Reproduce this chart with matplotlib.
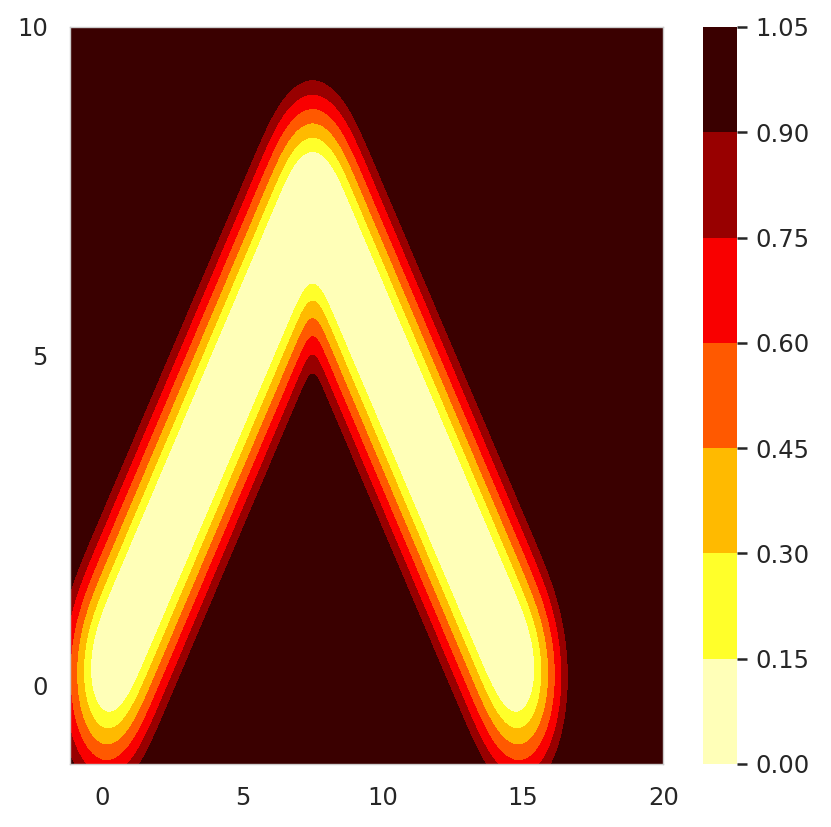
import numpy as np
import matplotlib
matplotlib.use("Agg")
import matplotlib.pyplot as plt

# ---- data ----
path_x = [0.0, 7.5, 15.0]          # vertices of the inverted-V path
path_y = [0.0, 7.5, 0.0]
x_range = [-1.15, 20.0]
y_range = [-1.2, 10.0]
levels = [0.0, 0.15, 0.30, 0.45, 0.60, 0.75, 0.90, 1.05]
x_ticks = [0, 5, 10, 15, 20]
y_ticks = [0, 5, 10]
kernel_sigma = 0.5      # smoothing of the path density
core_dist = 0.81        # distance where value reaches 0.15
outer_dist = 1.87       # distance where value reaches 0.90

# ---- build the field ----
nx, ny = 420, 420
gx = np.linspace(x_range[0], x_range[1], nx)
gy = np.linspace(y_range[0], y_range[1], ny)
X, Y = np.meshgrid(gx, gy)

step = 0.025
cx, cy = [], []
for i in range(len(path_x) - 1):
    seglen = np.hypot(path_x[i + 1] - path_x[i], path_y[i + 1] - path_y[i])
    n = int(np.ceil(seglen / step))
    t = np.arange(n) / n
    cx.append(path_x[i] + t * (path_x[i + 1] - path_x[i]))
    cy.append(path_y[i] + t * (path_y[i + 1] - path_y[i]))
cx.append([path_x[-1]]); cy.append([path_y[-1]])
cx = np.concatenate(cx); cy = np.concatenate(cy)

rho = np.zeros_like(X)
s2 = 2 * kernel_sigma ** 2
for k in range(0, len(cx), 40):
    px = cx[k:k + 40][:, None, None]
    py = cy[k:k + 40][:, None, None]
    rho += np.exp(-((X - px) ** 2 + (Y - py) ** 2) / s2).sum(axis=0)
rho0 = kernel_sigma * np.sqrt(2 * np.pi) / step
ratio = np.maximum(rho / rho0, 1e-300)
d_eff = np.sqrt(np.maximum(0.0, -s2 * np.log(ratio)))
slope = (0.90 - 0.15) / (outer_dist - core_dist)
Z = np.clip(0.15 + slope * (d_eff - core_dist), 0.0, 1.0)

# ---- plot ----
fig = plt.figure(figsize=(8.31, 8.27), dpi=100)
ax = fig.add_axes([0.0842, 0.0762, 0.714, 0.8912])
cax = fig.add_axes([0.846, 0.0762, 0.041, 0.8912])

cs = ax.contourf(X, Y, Z, levels=levels, cmap="hot_r")
ax.set_xlim(x_range)
ax.set_ylim(y_range)
ax.set_xticks(x_ticks)
ax.set_yticks(y_ticks)
ax.tick_params(axis="both", length=0, pad=16, labelsize=17.5, colors="#262626")
for sp in ax.spines.values():
    sp.set_color("0.8")
    sp.set_linewidth(1.0)

cb = fig.colorbar(cs, cax=cax)
cb.set_ticks(levels)
cb.set_ticklabels([f"{v:.2f}" for v in levels])
cb.ax.tick_params(length=7, width=1.8, pad=6, labelsize=17.5, colors="#262626")
cb.outline.set_visible(False)

fig.savefig("out.png", dpi=100)
